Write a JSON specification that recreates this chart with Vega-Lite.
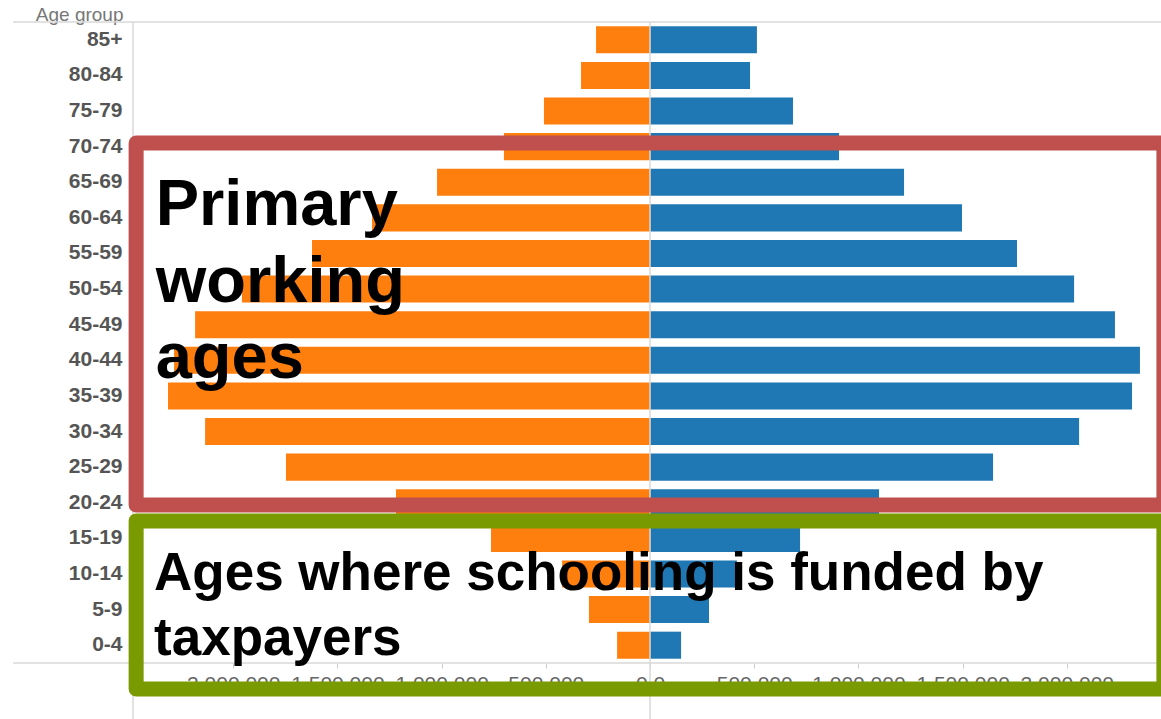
{
  "$schema": "https://vega.github.io/schema/vega-lite/v6.json",
  "autosize": {"type": "none"},
  "width": 1028,
  "height": 641,
  "padding": {"left": 133, "top": 22, "right": 0, "bottom": 56},
  "background": "white",
  "config": {"view": {"stroke": null}, "font": "Liberation Sans"},
  "datasets": {
    "pop": [
      {"age": "85+", "sex": "Female", "value": -259000},
      {"age": "85+", "sex": "Male", "value": 513000},
      {"age": "80-84", "sex": "Female", "value": -331000},
      {"age": "80-84", "sex": "Male", "value": 480000},
      {"age": "75-79", "sex": "Female", "value": -509000},
      {"age": "75-79", "sex": "Male", "value": 686000},
      {"age": "70-74", "sex": "Female", "value": -701000},
      {"age": "70-74", "sex": "Male", "value": 907000},
      {"age": "65-69", "sex": "Female", "value": -1022000},
      {"age": "65-69", "sex": "Male", "value": 1219000},
      {"age": "60-64", "sex": "Female", "value": -1334000},
      {"age": "60-64", "sex": "Male", "value": 1497000},
      {"age": "55-59", "sex": "Female", "value": -1622000},
      {"age": "55-59", "sex": "Male", "value": 1761000},
      {"age": "50-54", "sex": "Female", "value": -1958000},
      {"age": "50-54", "sex": "Male", "value": 2035000},
      {"age": "45-49", "sex": "Female", "value": -2183000},
      {"age": "45-49", "sex": "Male", "value": 2231000},
      {"age": "40-44", "sex": "Female", "value": -2284000},
      {"age": "40-44", "sex": "Male", "value": 2351000},
      {"age": "35-39", "sex": "Female", "value": -2313000},
      {"age": "35-39", "sex": "Male", "value": 2313000},
      {"age": "30-34", "sex": "Female", "value": -2135000},
      {"age": "30-34", "sex": "Male", "value": 2059000},
      {"age": "25-29", "sex": "Female", "value": -1747000},
      {"age": "25-29", "sex": "Male", "value": 1646000},
      {"age": "20-24", "sex": "Female", "value": -1219000},
      {"age": "20-24", "sex": "Male", "value": 1099000},
      {"age": "15-19", "sex": "Female", "value": -763000},
      {"age": "15-19", "sex": "Male", "value": 720000},
      {"age": "10-14", "sex": "Female", "value": -422000},
      {"age": "10-14", "sex": "Male", "value": 417000},
      {"age": "5-9", "sex": "Female", "value": -293000},
      {"age": "5-9", "sex": "Male", "value": 283000},
      {"age": "0-4", "sex": "Female", "value": -158000},
      {"age": "0-4", "sex": "Male", "value": 149000}
    ],
    "frame": [
      {"x": -3056000, "x2": 2452000, "y": 18, "y2": 18},
      {"x": -3056000, "x2": 2452000, "y": 0, "y2": 0},
      {"x": -2481000, "x2": -2481000, "y": 18, "y2": -1.6},
      {"x": 0, "x2": 0, "y": 18, "y2": -1.6}
    ],
    "boxes": [
      {"name": "working", "x": -2466000, "x2": 2466000, "y": 14.6, "y2": 4.44, "color": "#c0504d"},
      {"name": "school", "x": -2466000, "x2": 2466000, "y": 3.99, "y2": -0.73, "color": "#7a9a01"}
    ],
    "notes": [
      {"text": "Primary", "x": -2372000, "y": 12.3, "size": 65},
      {"text": "working", "x": -2372000, "y": 10.14, "size": 65},
      {"text": "ages", "x": -2372000, "y": 8.0, "size": 65},
      {"text": "Ages where schooling is funded by", "x": -2380000, "y": 2.05, "size": 53},
      {"text": "taxpayers", "x": -2380000, "y": 0.22, "size": 53}
    ]
  },
  "layer": [
    {
      "data": {"name": "pop"},
      "mark": {"type": "bar"},
      "encoding": {
        "y": {
          "field": "age", "type": "nominal",
          "sort": ["85+", "80-84", "75-79", "70-74", "65-69", "60-64", "55-59", "50-54", "45-49", "40-44", "35-39", "30-34", "25-29", "20-24", "15-19", "10-14", "5-9", "0-4"],
          "scale": {"paddingInner": 0.24, "paddingOuter": 0.12},
          "axis": {
            "title": "Age group", "titleAngle": 0, "titleAlign": "right", "titleBaseline": "alphabetic",
            "titleX": -10, "titleY": -2, "titleFontSize": 19, "titleFontWeight": "normal", "titleColor": "#777",
            "domain": false, "ticks": false, "labelPadding": 11,
            "labelFontSize": 21, "labelFontWeight": "bold", "labelColor": "#555"
          }
        },
        "x": {
          "field": "value", "type": "quantitative",
          "scale": {"domain": [-2481000, 2452000], "nice": false},
          "axis": {
            "title": null, "domain": false, "grid": false,
            "values": [-2000000, -1500000, -1000000, -500000, 0, 500000, 1000000, 1500000, 2000000],
            "labelExpr": "datum.value == 0 ? '0.0' : format(abs(datum.value), ',')",
            "tickColor": "#ccc", "tickSize": 5, "labelPadding": 5,
            "labelFontSize": 21, "labelColor": "#666"
          }
        },
        "color": {
          "field": "sex", "type": "nominal",
          "scale": {"domain": ["Female", "Male"], "range": ["#ff7f0e", "#1f77b4"]},
          "legend": null
        }
      }
    },
    {
      "data": {"name": "frame"},
      "mark": {"type": "rule", "color": "#d9d9d9", "strokeWidth": 1.5},
      "encoding": {
        "x": {"field": "x", "type": "quantitative", "scale": {"domain": [-2481000, 2452000], "nice": false}},
        "x2": {"field": "x2"},
        "y": {"field": "y", "type": "quantitative", "scale": {"domain": [0, 18], "nice": false, "zero": false}, "axis": null},
        "y2": {"field": "y2"}
      }
    },
    {
      "data": {"name": "boxes"},
      "mark": {"type": "rect", "filled": false, "strokeWidth": 15, "strokeJoin": "round"},
      "encoding": {
        "x": {"field": "x", "type": "quantitative", "scale": {"domain": [-2481000, 2452000], "nice": false}},
        "x2": {"field": "x2"},
        "y": {"field": "y", "type": "quantitative", "scale": {"domain": [0, 18], "nice": false, "zero": false}, "axis": null},
        "y2": {"field": "y2"},
        "stroke": {"field": "color", "type": "nominal", "scale": null}
      }
    },
    {
      "data": {"name": "notes"},
      "mark": {"type": "text", "font": "Liberation Sans", "fontWeight": "bold", "align": "left", "baseline": "alphabetic", "color": "black"},
      "encoding": {
        "x": {"field": "x", "type": "quantitative", "scale": {"domain": [-2481000, 2452000], "nice": false}},
        "y": {"field": "y", "type": "quantitative", "scale": {"domain": [0, 18], "nice": false, "zero": false}, "axis": null},
        "text": {"field": "text"},
        "size": {"field": "size", "type": "quantitative", "scale": null}
      }
    }
  ],
  "resolve": {"scale": {"y": "independent"}}
}
